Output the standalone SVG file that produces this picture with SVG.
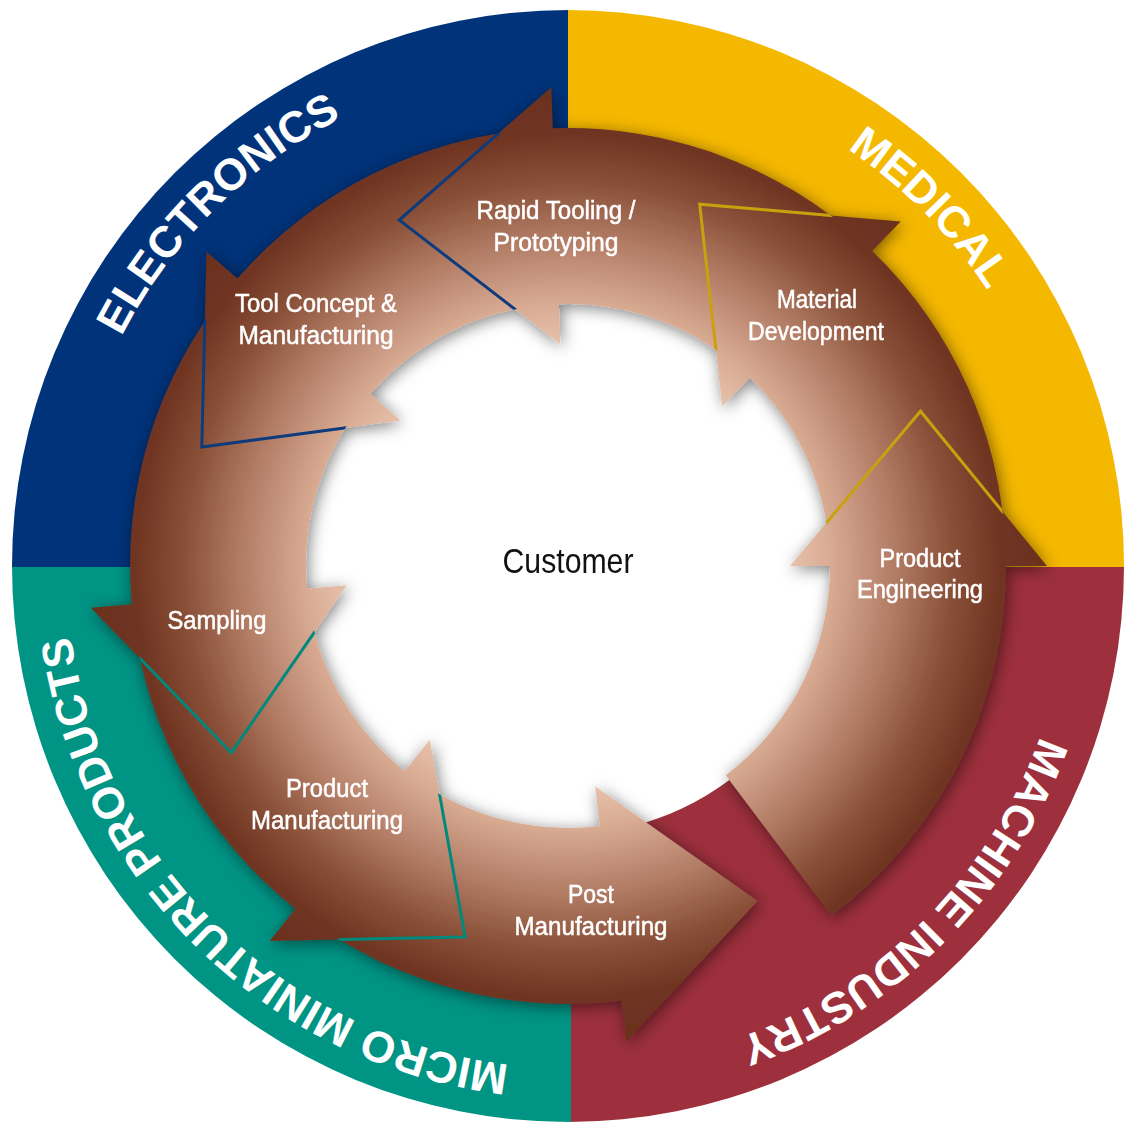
<svg xmlns="http://www.w3.org/2000/svg" width="1126" height="1124" viewBox="0 0 1126 1124">
  <defs>
    <style>
      .ring-label { font-family: "Liberation Sans", Arial, sans-serif; font-weight: bold; font-size: 44px; fill: #ffffff; }
      .step-label { font-family: "Liberation Sans", Arial, sans-serif; font-size: 25px; fill: #ffffff; stroke: #ffffff; stroke-width: 0.5px; text-anchor: middle; }
      .center-label { font-family: "Liberation Sans", Arial, sans-serif; font-size: 35px; fill: #111111; text-anchor: middle; }
      .arrow { fill: url(#copper); }
      .edge { fill: none; stroke-width: 3; stroke-linejoin: miter; clip-path: url(#band); }
    </style>
    <!-- copper shading: light toward the hub, dark toward the rim -->
    <radialGradient id="copper" gradientUnits="userSpaceOnUse" cx="568" cy="566" r="480">
      <stop offset="0.46" stop-color="#e8c2ac"/>
      <stop offset="0.55" stop-color="#d8aa92"/>
      <stop offset="0.68" stop-color="#b27c65"/>
      <stop offset="0.80" stop-color="#8a5038"/>
      <stop offset="0.90" stop-color="#703522"/>
      <stop offset="1" stop-color="#6a301e"/>
    </radialGradient>
    <clipPath id="disc">
      <circle cx="568" cy="566" r="556"/>
    </clipPath>
    <!-- annulus covered by the arrow bodies -->
    <clipPath id="band">
      <path clip-rule="evenodd" d="M130,566 A438,438 0 1 0 1006,566 A438,438 0 1 0 130,566 Z M306,566 A262,262 0 1 0 830,566 A262,262 0 1 0 306,566 Z"/>
    </clipPath>
    <filter id="shade" x="-15%" y="-15%" width="130%" height="130%">
      <feDropShadow dx="2" dy="3" stdDeviation="8" flood-color="#000000" flood-opacity="0.5"/>
    </filter>
    <!-- clockwise circle for the sector names, starting at the left -->
    <path id="ringPath" d="M66,566 A502,502 0 1 1 1070,566 A502,502 0 1 1 66,566"/>
  </defs>

  <rect width="1126" height="1124" fill="#ffffff"/>

  <!-- outer ring: four market sectors -->
  <g id="sectors" clip-path="url(#disc)">
    <rect id="sector-electronics" x="0" y="0" width="568" height="567" fill="#00337a"/>
    <rect id="sector-medical" x="568" y="0" width="558" height="567" fill="#f5b800"/>
    <rect id="sector-machine" x="571" y="567" width="555" height="557" fill="#9d303c"/>
    <rect id="sector-micro" x="0" y="567" width="571" height="557" fill="#009485"/>
  </g>

  <g id="sector-names">
    <text class="ring-label"><textPath href="#ringPath" startOffset="396" text-anchor="middle">ELECTRONICS</textPath></text>
    <text class="ring-label"><textPath href="#ringPath" startOffset="1185" text-anchor="middle">MEDICAL</textPath></text>
    <text class="ring-label"><textPath href="#ringPath" startOffset="1971" text-anchor="middle">MACHINE INDUSTRY</textPath></text>
    <text class="ring-label"><textPath href="#ringPath" startOffset="2754" text-anchor="middle">MICRO MINIATURE PRODUCTS</textPath></text>
  </g>

  <!-- hub -->
  <circle id="hub" cx="568" cy="566" r="268" fill="#ffffff"/>

  <!-- process cycle, drawn so each head lies over the next body -->
  <g id="cycle" filter="url(#shade)">
    <g id="step-post-manufacturing">
      <path class="arrow" d="M307.5,918.1 A438,438 0 0 0 621.4,1000.7 L626.4,1041.4 L757.6,901.1 L595.1,786.3 L599.9,826.0 A262,262 0 0 1 412.2,776.6 Z"/>
    </g>
    <g id="step-product-manufacturing">
      <path class="arrow" d="M133.3,619.4 A438,438 0 0 0 295.3,908.8 L269.8,940.9 L465.1,937.0 L429.8,739.7 L404.9,771.0 A262,262 0 0 1 308.0,597.9 Z"/>
      <path class="edge" stroke="#00897b" d="M269.8,940.9 L465.1,937.0 L429.8,739.7"/>
    </g>
    <g id="step-sampling">
      <path class="arrow" d="M227.6,290.4 A438,438 0 0 0 131.7,604.2 L90.8,607.7 L231.3,752.7 L346.8,585.3 L307.0,588.8 A262,262 0 0 1 364.4,401.1 Z"/>
      <path class="edge" stroke="#00897b" d="M90.8,607.7 L231.3,752.7 L346.8,585.3"/>
    </g>
    <g id="step-tool-concept">
      <path class="arrow" d="M537.4,129.1 A438,438 0 0 0 237.4,278.6 L206.5,251.7 L201.8,447.0 L400.5,420.4 L370.3,394.1 A262,262 0 0 1 549.7,304.6 Z"/>
      <path class="edge" stroke="#0b3a7c" d="M206.5,251.7 L201.8,447.0 L400.5,420.4"/>
    </g>
    <g id="step-rapid-tooling">
      <path class="arrow" d="M861.1,240.5 A438,438 0 0 0 552.7,128.3 L551.3,87.3 L399.2,220.0 L560.3,344.1 L558.9,304.2 A262,262 0 0 1 743.3,371.3 Z"/>
      <path class="edge" stroke="#0b3a7c" d="M551.3,87.3 L399.2,220.0 L560.3,344.1"/>
    </g>
    <g id="step-material-development">
      <path class="arrow" d="M1005.7,550.7 A438,438 0 0 0 872.3,250.9 L900.7,221.4 L699.7,204.2 L722.2,406.3 L750.0,377.5 A262,262 0 0 1 829.8,556.9 Z"/>
      <path class="edge" stroke="#c9a010" d="M900.7,221.4 L699.7,204.2 L722.2,406.3"/>
    </g>
    <g id="step-product-engineering">
      <path class="arrow" d="M831.6,915.8 A438,438 0 0 0 1006,566 L1047,566 L920.5,411.2 L790,566 L830,566 A262,262 0 0 1 725.7,775.2 Z"/>
      <path class="edge" stroke="#c9a010" d="M1047,566 L920.5,411.2 L790,566"/>
    </g>
  </g>

  <!-- step names, one text per printed line -->
  <g id="step-labels">
    <text id="label-rapid-tooling-1" class="step-label" x="556" y="219" textLength="159" lengthAdjust="spacingAndGlyphs">Rapid Tooling /</text>
    <text id="label-rapid-tooling-2" class="step-label" x="556" y="251" textLength="125" lengthAdjust="spacingAndGlyphs">Prototyping</text>
    <text id="label-tool-concept-1" class="step-label" x="316" y="312" textLength="162" lengthAdjust="spacingAndGlyphs">Tool Concept &amp;</text>
    <text id="label-tool-concept-2" class="step-label" x="316" y="344" textLength="155" lengthAdjust="spacingAndGlyphs">Manufacturing</text>
    <text id="label-material-1" class="step-label" x="817" y="308" textLength="80" lengthAdjust="spacingAndGlyphs">Material</text>
    <text id="label-material-2" class="step-label" x="816" y="340" textLength="136" lengthAdjust="spacingAndGlyphs">Development</text>
    <text id="label-engineering-1" class="step-label" x="920" y="567" textLength="81" lengthAdjust="spacingAndGlyphs">Product</text>
    <text id="label-engineering-2" class="step-label" x="920" y="598" textLength="126" lengthAdjust="spacingAndGlyphs">Engineering</text>
    <text id="label-sampling" class="step-label" x="217" y="629" textLength="99" lengthAdjust="spacingAndGlyphs">Sampling</text>
    <text id="label-product-mfg-1" class="step-label" x="327" y="797" textLength="82" lengthAdjust="spacingAndGlyphs">Product</text>
    <text id="label-product-mfg-2" class="step-label" x="327" y="829" textLength="152" lengthAdjust="spacingAndGlyphs">Manufacturing</text>
    <text id="label-post-mfg-1" class="step-label" x="591" y="903" textLength="46" lengthAdjust="spacingAndGlyphs">Post</text>
    <text id="label-post-mfg-2" class="step-label" x="591" y="935" textLength="153" lengthAdjust="spacingAndGlyphs">Manufacturing</text>
  </g>

  <g id="customer">
    <text class="center-label" x="568" y="573" textLength="131" lengthAdjust="spacingAndGlyphs">Customer</text>
  </g>
</svg>
